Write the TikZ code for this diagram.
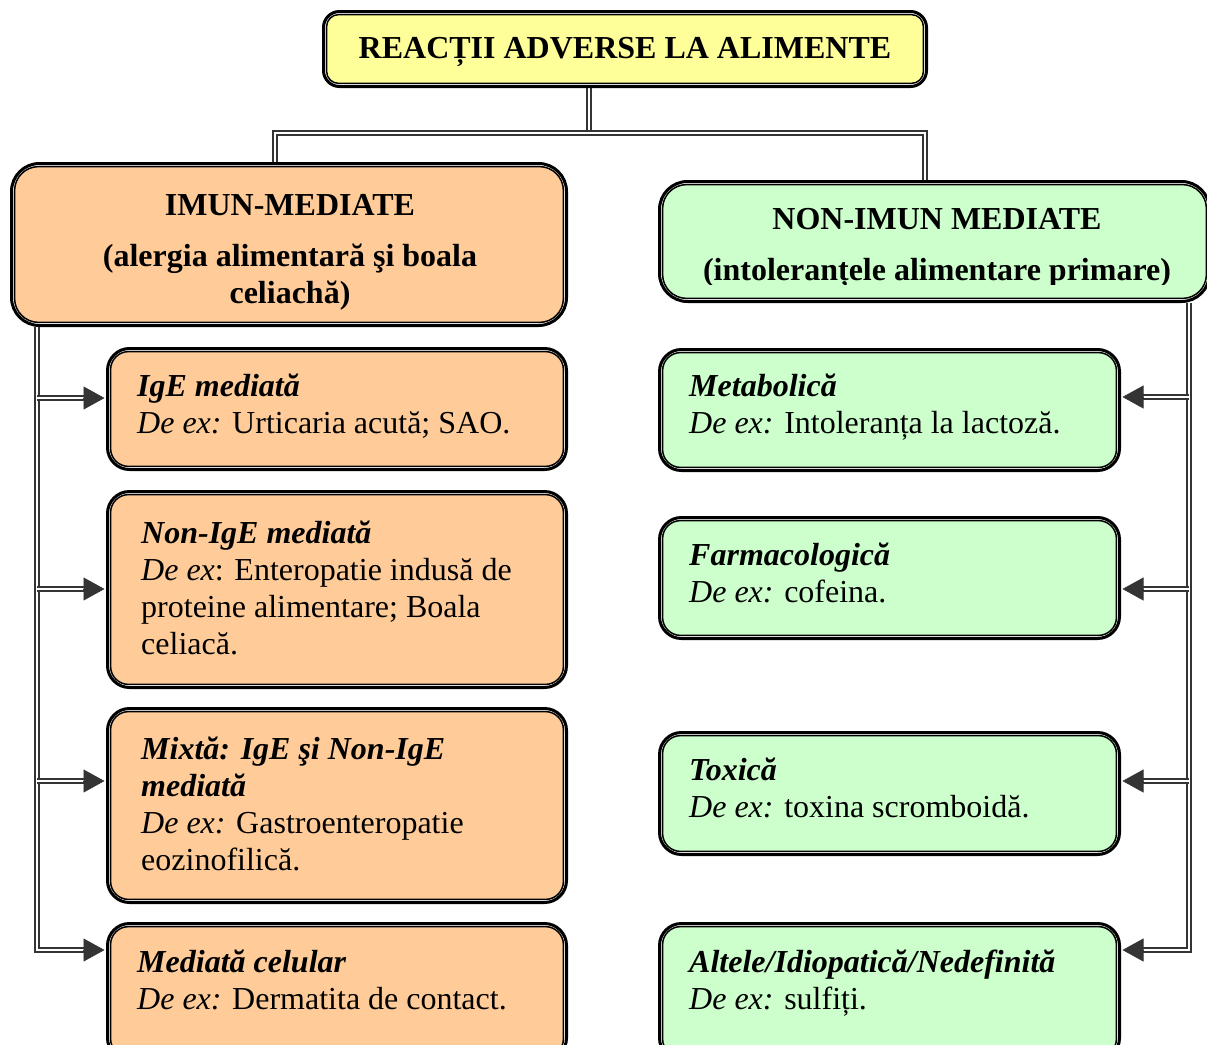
\documentclass[tikz,border=0pt]{standalone}
\usepackage{fontspec}
\setmainfont{Liberation Serif}
\usetikzlibrary{arrows.meta,fit,calc}
\definecolor{peach}{RGB}{255,204,153}
\definecolor{mint}{RGB}{204,255,204}
\definecolor{lemon}{RGB}{255,255,153}
\definecolor{conn}{RGB}{52,52,52}
\pgfdeclarelayer{bg}
\pgfsetlayers{bg,main}
\tikzset{
  boxout/.style={draw=black, fill=white, line width=3pt, inner sep=0pt},
  boxin/.style={draw=black, line width=1.5pt},
  dbl/.style={draw=conn, line width=1.9pt, double=white, double distance=1.9pt},
  tipline/.style={draw=conn, fill=conn, line width=0.6pt, -{Triangle[length=21pt,width=23pt]}},
  txt/.style={anchor=base west, align=left, inner sep=0pt, font=\fontsize{32}{36.7}\selectfont},
  hdr/.style={anchor=base, align=center, inner sep=0pt, font=\fontsize{32}{36.7}\selectfont\bfseries},
}
\newcommand\dblbox[8]{%
  \node[boxout, rounded corners=#7pt, fit={(#2,#3)(#4,#5)}] (#1) {};
  \draw[boxin, fill=#6, rounded corners=#8pt] ([shift={(4.6,4.6)}]#1.north west) rectangle ([shift={(-4.6,-4.6)}]#1.south east);}
\newcommand\bi[1]{\textbf{\textit{#1}}}
\newcommand\dex{{\itshape De ex:}}
\begin{document}
\begin{tikzpicture}[x=1pt,y=-1pt]
\useasboundingbox (0,0) rectangle (1207,1044);
\clip (0,0) rectangle (1207,1044);
% boxes
\dblbox{title}{323.5}{11.5}{926.5}{86.5}{lemon}{16}{12}
\dblbox{lhead}{11.5}{163.5}{566.5}{325.5}{peach}{28}{24}
\dblbox{rhead}{659.5}{181.5}{1209.5}{301.5}{mint}{28}{24}
\dblbox{c1}{107.5}{348.5}{566.5}{469.5}{peach}{22}{18}
\dblbox{c2}{107.5}{491.5}{566.5}{687.5}{peach}{22}{18}
\dblbox{c3}{107.5}{708.5}{566.5}{902.5}{peach}{22}{18}
\dblbox{c4}{107.5}{923.5}{566.5}{1060}{peach}{22}{18}
\dblbox{r1}{659.5}{349.5}{1119.5}{470.5}{mint}{22}{18}
\dblbox{r2}{659.5}{517.5}{1119.5}{638.5}{mint}{22}{18}
\dblbox{r3}{659.5}{732.5}{1119.5}{854.5}{mint}{22}{18}
\dblbox{r4}{659.5}{923.5}{1119.5}{1060}{mint}{22}{18}
% texts (anchored at the baseline of the last line)
\node[hdr] (tt) at (625,58) {REACȚII ADVERSE LA ALIMENTE};
\node[hdr] (lht) at (290,303) {IMUN-MEDIATE\\[14pt](alergia alimentară şi boala\\celiachă)};
\begin{scope}
\clip (660,185) rectangle (1207,284);
\node[hdr] (rht) at (937,280) {NON-IMUN MEDIATE\\[14pt](intoleranțele alimentare primare)};
\end{scope}
\node[txt] (c1t) at (137,433) {\bi{IgE mediată}\\\dex{} Urticaria acută; SAO.};
\node[txt] (c2t) at (141,654) {\bi{Non-IgE mediată}\\{\itshape De ex}: Enteropatie indusă de\\proteine alimentare; Boala\\celiacă.};
\node[txt] (c3t) at (141,870) {\bi{Mixtă: IgE şi Non-IgE}\\\bi{mediată}\\\dex{} Gastroenteropatie\\eozinofilică.};
\node[txt] (c4t) at (137,1009) {\bi{Mediată celular}\\\dex{} Dermatita de contact.};
\node[txt] (r1t) at (689,433) {\bi{Metabolică}\\\dex{} Intoleranța la lactoză.};
\node[txt] (r2t) at (689,602) {\bi{Farmacologică}\\\dex{} cofeina.};
\node[txt] (r3t) at (689,817) {\bi{Toxică}\\\dex{} toxina scromboidă.};
\node[txt] (r4t) at (689,1009) {\bi{Altele/Idiopatică/Nedefinită}\\\dex{} sulfiți.};
% connectors
\coordinate (jn) at (589,133);
\coordinate (lj) at (275,133);
\coordinate (rj) at (925,133);
\coordinate (la1) at (37,398);
\coordinate (la2) at (37,589);
\coordinate (la3) at (37,781);
\coordinate (la4) at (37,950);
\coordinate (ra1) at (1189,397);
\coordinate (ra2) at (1189,589);
\coordinate (ra3) at (1189,781);
\coordinate (ra4) at (1189,950);
\begin{pgfonlayer}{bg}
\draw[dbl] (jn |- title.south) -- (jn);
\draw[dbl] (lj |- lhead.north) -- (lj) -- (rj) -- (rj |- rhead.north);
\draw[dbl] (lhead.south -| la1) -- (la4) -- ($(la4 -| c4.west)+(-19,0)$);
\draw[dbl] (rhead.south -| ra1) -- (ra4) -- ($(ra4 -| r4.east)+(19,0)$);
\foreach \i in {1,2,3}{
  \draw[dbl] (la\i) -- ($(la\i -| c\i.west)+(-19,0)$);
  \draw[dbl] (ra\i) -- ($(ra\i -| r\i.east)+(19,0)$);
}
\end{pgfonlayer}
\foreach \i in {1,2,3,4}{
  \draw[tipline] ($(la\i -| c\i.west)+(-23,0)$) -- ($(la\i -| c\i.west)+(-1.5,0)$);
  \draw[tipline] ($(ra\i -| r\i.east)+(23,0)$) -- ($(ra\i -| r\i.east)+(1.5,0)$);
}
\end{tikzpicture}
\end{document}
